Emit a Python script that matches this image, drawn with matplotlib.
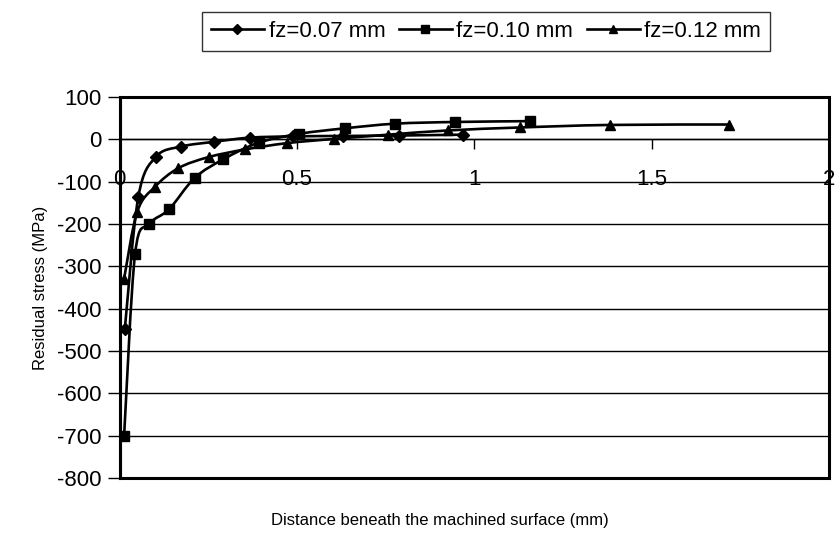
import matplotlib
matplotlib.use("Agg")
import matplotlib.pyplot as plt
from matplotlib.path import Path
from matplotlib.patches import PathPatch, Rectangle
from matplotlib.lines import Line2D

plt.rcParams["font.family"] = ["Liberation Sans", "DejaVu Sans"]
plt.rcParams["axes.unicode_minus"] = False

# distance beneath surface (mm) and residual stress (MPa)
x_007 = [0.015, 0.053, 0.103, 0.174, 0.265, 0.368, 0.49, 0.63, 0.788, 0.967]
y_007 = [-448, -136, -41, -17, -6, 4, 7, 8, 9, 11]

x_010 = [0.013, 0.044, 0.084, 0.140, 0.212, 0.293, 0.392, 0.507, 0.635, 0.778, 0.946, 1.158]
y_010 = [-700, -270, -200, -165, -91, -47, -8, 13, 26, 37, 41, 43]

x_012 = [0.013, 0.050, 0.100, 0.166, 0.251, 0.353, 0.472, 0.605, 0.758, 0.926, 1.129, 1.383, 1.718]
y_012 = [-329, -171, -112, -68, -42, -24, -9, 1, 11, 21, 28, 34, 35]

labels = ["fz=0.07 mm", "fz=0.10 mm", "fz=0.12 mm"]
markers = ["D", "s", "^"]
marker_sizes = [6, 6.5, 7]

x_ticks = [0, 0.5, 1, 1.5, 2]
x_tick_labels = ["0", "0.5", "1", "1.5", "2"]
y_ticks = list(range(-800, 101, 100))


def smooth_path(xs, ys):
    # Excel-style smoothed line: cubic bezier through every point
    pts = list(zip(xs, ys))
    verts = [pts[0]]
    codes = [Path.MOVETO]
    n = len(pts)
    for i in range(n - 1):
        p0 = pts[i - 1] if i > 0 else pts[i]
        p1 = pts[i]
        p2 = pts[i + 1]
        p3 = pts[i + 2] if i + 2 < n else pts[i + 1]
        c1 = (p1[0] + (p2[0] - p0[0]) / 6.0, p1[1] + (p2[1] - p0[1]) / 6.0)
        c2 = (p2[0] - (p3[0] - p1[0]) / 6.0, p2[1] - (p3[1] - p1[1]) / 6.0)
        verts += [c1, c2, p2]
        codes += [Path.CURVE4] * 3
    return Path(verts, codes)


fig = plt.figure(figsize=(8.39, 5.38), dpi=100)
ax = fig.add_axes([119.5 / 839, 1 - 478 / 538, (829 - 119.5) / 839, (478 - 97) / 538])

ax.set_xlim(0, 2)
ax.set_ylim(-800, 100)

for yv in y_ticks:
    ax.axhline(yv, color="black", linewidth=1.0, zorder=1)

series = [(x_007, y_007), (x_010, y_010), (x_012, y_012)]
handles = []
for (xs, ys), lab, mk, ms in zip(series, labels, markers, marker_sizes):
    ax.add_patch(PathPatch(smooth_path(xs, ys), fill=False, edgecolor="black",
                           linewidth=1.9, zorder=3))
    ax.plot(xs, ys, linestyle="none", marker=mk, markersize=ms, color="black", zorder=4)
    handles.append(Line2D([], [], color="black", linewidth=1.9, marker=mk,
                          markersize=ms * 0.8, label=lab))

# plot area border
ax.add_patch(Rectangle((0, 0), 1, 1, transform=ax.transAxes, fill=False,
                       edgecolor="black", linewidth=2.2, zorder=5, clip_on=False))

# the x axis crosses at y = 0
for side in ["right", "top"]:
    ax.spines[side].set_visible(False)
ax.spines["left"].set_linewidth(2.2)
ax.spines["bottom"].set_position(("data", 0))
ax.spines["bottom"].set_linewidth(1.0)

ax.set_yticks(y_ticks)
ax.tick_params(axis="y", direction="out", length=9, width=1, labelsize=16, pad=4)
ax.set_xticks(x_ticks)
ax.set_xticklabels(x_tick_labels)
ax.tick_params(axis="x", direction="out", length=7, width=1, labelsize=16, pad=14)

ax.set_ylabel("Residual stress (MPa)", fontsize=12)
ax.yaxis.set_label_coords((48 - 119.5) / 709.5, 0.5)
fig.text(440 / 839, 1 - 521 / 538, "Distance beneath the machined surface (mm)",
         ha="center", va="center", fontsize=12)

leg = fig.legend(handles=handles, loc="upper center", bbox_to_anchor=(486 / 839, 1 - 12 / 538),
                 ncol=3, frameon=True, fancybox=False, fontsize=16, handlelength=2.4,
                 handletextpad=0.2, columnspacing=0.6, borderpad=0.4, borderaxespad=0)
leg.get_frame().set_edgecolor("black")
leg.get_frame().set_linewidth(1.0)

fig.savefig("out.png", dpi=100)
